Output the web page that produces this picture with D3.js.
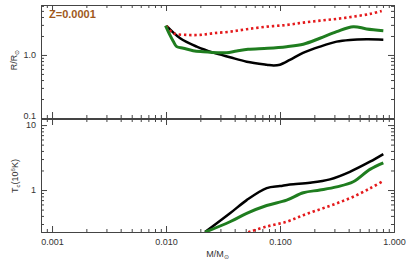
<!DOCTYPE html>
<html><head><meta charset="utf-8">
<script src="https://cdn.jsdelivr.net/npm/d3@7"></script>
<style>body{margin:0;background:#fff}svg{display:block}text{font-family:"Liberation Sans",Arial,sans-serif}</style>
</head><body><svg id="c" width="407" height="262"></svg>
<script>
// ---- data ----
const xTickValues = [0.001, 0.01, 0.1, 1.0];
const xTickLabels = ["0.001", "0.010", "0.100", "1.000"];
const rTickValues = [0.1, 1.0];
const rTickLabels = ["0.1", "1.0"];
const tTickValues = [1, 10];
const tTickLabels = ["1", "10"];

// upper panel: radius
const blackRMass = [0.0101, 0.0133, 0.0186, 0.026, 0.0364, 0.051, 0.0764, 0.088, 0.0998, 0.122, 0.159, 0.224, 0.314, 0.41, 0.575, 0.806];
const blackR     = [2.89, 1.84, 1.355, 1.088, 0.92, 0.783, 0.70, 0.68, 0.70, 0.833, 1.076, 1.355, 1.626, 1.73, 1.77, 1.75];
const redRMass   = [0.0101, 0.0116, 0.0152, 0.0199, 0.026, 0.0364, 0.051, 0.0764, 0.1143, 0.16, 0.224, 0.314, 0.439, 0.615, 0.78];
const redR       = [2.89, 2.21, 2.08, 2.08, 2.21, 2.34, 2.56, 2.81, 2.99, 3.26, 3.5, 3.73, 4.05, 4.48, 4.99];
const greenRMass = [0.0099, 0.0108, 0.0116, 0.0124, 0.0142, 0.0173, 0.0212, 0.0286, 0.034, 0.0417, 0.0524, 0.078, 0.1143, 0.16, 0.224, 0.314, 0.439, 0.575, 0.806];
const greenR     = [2.92, 2.08, 1.63, 1.355, 1.277, 1.17, 1.128, 1.088, 1.088, 1.157, 1.23, 1.277, 1.355, 1.48, 1.84, 2.34, 2.81, 2.59, 2.43];

// lower panel: central temperature
const blackTMass = [0.022, 0.0364, 0.051, 0.0764, 0.0998, 0.122, 0.183, 0.274, 0.41, 0.615, 0.806];
const blackT     = [0.225, 0.438, 0.70, 1.07, 1.15, 1.22, 1.295, 1.46, 1.91, 2.73, 3.58];
const greenTMass = [0.022, 0.0364, 0.051, 0.0764, 0.1143, 0.16, 0.224, 0.314, 0.439, 0.615, 0.806];
const greenT     = [0.225, 0.325, 0.438, 0.578, 0.70, 0.909, 1.0, 1.12, 1.34, 2.08, 2.63];
const redTMass   = [0.0526, 0.0764, 0.1143, 0.16, 0.224, 0.314, 0.439, 0.615, 0.78];
const redT       = [0.225, 0.274, 0.325, 0.41, 0.505, 0.624, 0.789, 1.06, 1.34];

// ---- layout ----
const L = 41, R = 394, T1 = 5, B1 = 118, T2 = 119, B2 = 232;
const axisCol = "#444";
const svg = d3.select("#c");
const x = d3.scaleLog().domain([0.0008, 1.0]).range([L, R]);
const yU = d3.scaleLog().domain([0.1, 6.2]).range([B1, T1]);
const yL = d3.scaleLog().domain([0.226, 12.4]).range([B2, T2]);

function minorTicks(lo, hi, decades) {
  const out = [];
  decades.forEach(d => { for (let k = 2; k <= 9; k++) { const v = k * d; if (v > lo * 1.0001 && v < hi * 0.9999) out.push(v); } });
  return out;
}
const xMinor = minorTicks(0.0008, 1.0, [0.0001, 0.001, 0.01, 0.1]);
const yUMinor = minorTicks(0.1, 6.2, [0.1, 1]);
const yLMinor = minorTicks(0.226, 12.4, [0.1, 1, 10]);

function styleAxis(g) {
  g.selectAll("path").attr("stroke", axisCol).attr("stroke-width", 1);
  g.selectAll("line").attr("stroke", axisCol).attr("stroke-width", 1);
  g.selectAll("text").attr("fill", "#333").attr("font-size", 9);
}
function drawAxis(gen, tx, ty) {
  const g = svg.append("g").attr("transform", `translate(${tx},${ty})`).call(gen);
  styleAxis(g);
  return g;
}
// x axes
const fmtX = d => xTickLabels[xTickValues.indexOf(d)];
drawAxis(d3.axisBottom(x).tickValues(xTickValues).tickFormat(fmtX).tickSize(-6).tickPadding(7), 0, B2);
drawAxis(d3.axisBottom(x).tickValues(xMinor).tickFormat("").tickSize(-3), 0, B2).select("path").remove();
drawAxis(d3.axisTop(x).tickValues(xTickValues).tickFormat("").tickSize(-6), 0, T2);
drawAxis(d3.axisTop(x).tickValues(xMinor).tickFormat("").tickSize(-3), 0, T2).select("path").remove();
drawAxis(d3.axisBottom(x).tickValues(xTickValues).tickFormat("").tickSize(-6), 0, B1);
drawAxis(d3.axisBottom(x).tickValues(xMinor).tickFormat("").tickSize(-3), 0, B1).select("path").remove();
drawAxis(d3.axisTop(x).tickValues(xTickValues).tickFormat("").tickSize(-6), 0, T1);
drawAxis(d3.axisTop(x).tickValues(xMinor).tickFormat("").tickSize(-3), 0, T1).select("path").remove();
// y axes upper
const gu = drawAxis(d3.axisLeft(yU).tickValues(rTickValues).tickFormat(d => rTickLabels[rTickValues.indexOf(d)]).tickSize(-6).tickPadding(5), L, 0);
gu.selectAll("text").filter(d => d === 0.1).attr("dy", "0.0em");
drawAxis(d3.axisLeft(yU).tickValues(yUMinor).tickFormat("").tickSize(-3), L, 0).select("path").remove();
drawAxis(d3.axisRight(yU).tickValues(rTickValues).tickFormat("").tickSize(-6), R, 0);
drawAxis(d3.axisRight(yU).tickValues(yUMinor).tickFormat("").tickSize(-3), R, 0).select("path").remove();
// y axes lower
drawAxis(d3.axisLeft(yL).tickValues(tTickValues).tickFormat(d => tTickLabels[tTickValues.indexOf(d)]).tickSize(-6).tickPadding(5), L, 0);
drawAxis(d3.axisLeft(yL).tickValues(yLMinor).tickFormat("").tickSize(-3), L, 0).select("path").remove();
drawAxis(d3.axisRight(yL).tickValues(tTickValues).tickFormat("").tickSize(-6), R, 0);
drawAxis(d3.axisRight(yL).tickValues(yLMinor).tickFormat("").tickSize(-3), R, 0).select("path").remove();

// clip paths
const defs = svg.append("defs");
defs.append("clipPath").attr("id", "cu").append("rect").attr("x", L).attr("y", T1).attr("width", R - L).attr("height", B1 - T1);
defs.append("clipPath").attr("id", "cl").append("rect").attr("x", L).attr("y", T2).attr("width", R - L).attr("height", B2 - T2);

function series(g, ys, ms, vs, style) {
  const pts = ms.map((m, i) => [m, vs[i]]);
  const line = d3.line().x(d => x(d[0])).y(d => ys(d[1])).curve(d3.curveCatmullRom.alpha(0.5));
  const p = g.append("path").attr("d", line(pts)).attr("fill", "none");
  Object.entries(style).forEach(([k, v]) => p.attr(k, v));
}
const blackStyle = { stroke: "#000", "stroke-width": 2.5, "stroke-linejoin": "round" };
const redStyle = { stroke: "#e41a1c", "stroke-width": 2.6, "stroke-dasharray": "2.4,2.8" };
const greenStyle = { stroke: "#1f7d1f", "stroke-width": 3, "stroke-linejoin": "round" };

const gU = svg.append("g").attr("clip-path", "url(#cu)");
series(gU, yU, blackRMass, blackR, blackStyle);
series(gU, yU, redRMass, redR, redStyle);
series(gU, yU, greenRMass, greenR, greenStyle);
const gL = svg.append("g").attr("clip-path", "url(#cl)");
series(gL, yL, blackTMass, blackT, blackStyle);
series(gL, yL, greenTMass, greenT, greenStyle);
series(gL, yL, redTMass, redT, redStyle);

// labels
svg.append("text").attr("x", 49).attr("y", 18).attr("font-size", 11).attr("font-weight", "bold")
  .attr("fill", "#a0581c").text("Z=0.0001");
const ry = svg.append("text").attr("transform", "translate(17,60) rotate(-90)").attr("text-anchor", "middle")
  .attr("font-size", 9).attr("fill", "#333");
ry.append("tspan").text("R/R");
ry.append("tspan").attr("font-size", 6).attr("dy", 2).text("⊙");
const ty = svg.append("text").attr("transform", "translate(18,176) rotate(-90)").attr("text-anchor", "middle")
  .attr("font-size", 9).attr("fill", "#333");
ty.append("tspan").text("T");
ty.append("tspan").attr("font-size", 6).attr("dy", 2).text("c");
ty.append("tspan").attr("dy", -2).text("(10");
ty.append("tspan").attr("font-size", 6).attr("dy", -3).text("6");
ty.append("tspan").attr("dy", 3).text("K)");
const mx = svg.append("text").attr("x", (L + R) / 2).attr("y", 257).attr("text-anchor", "middle")
  .attr("font-size", 9).attr("fill", "#333");
mx.append("tspan").text("M/M");
mx.append("tspan").attr("font-size", 6).attr("dy", 2).text("⊙");
</script></body></html>
